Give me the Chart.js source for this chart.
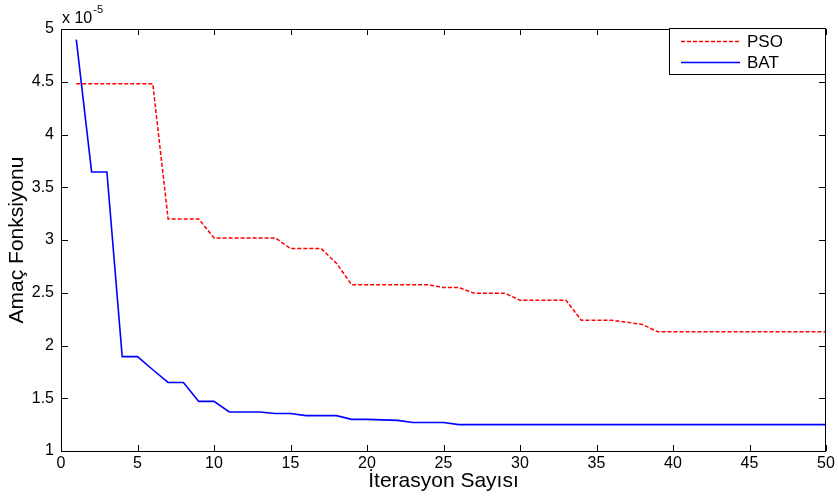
<!DOCTYPE html>
<html>
<head>
<meta charset="utf-8">
<script src="https://cdn.jsdelivr.net/npm/chart.js@4.4.1/dist/chart.umd.min.js"></script>
<style>
  html, body { margin: 0; padding: 0; background: #fff; }
  canvas { display: block; }
</style>
</head>
<body>
<canvas id="myChart" width="838" height="497"></canvas>
<script>
// iterations and objective values (in units of 1e-5)
var iterations = [1, 2, 3, 4, 5, 6, 7, 8, 9, 10, 11, 12, 13, 14, 15, 16, 17, 18, 19, 20,
  21, 22, 23, 24, 25, 26, 27, 28, 29, 30, 31, 32, 33, 34, 35, 36, 37, 38, 39, 40,
  41, 42, 43, 44, 45, 46, 47, 48, 49, 50];
var psoValues = [4.48, 4.48, 4.48, 4.48, 4.48, 4.48, 3.20, 3.20, 3.20, 3.02,
  3.02, 3.02, 3.02, 3.02, 2.92, 2.92, 2.92, 2.78, 2.575, 2.575,
  2.575, 2.575, 2.575, 2.575, 2.55, 2.55, 2.495, 2.495, 2.495, 2.43,
  2.43, 2.43, 2.43, 2.24, 2.24, 2.24, 2.22, 2.20, 2.13, 2.13,
  2.13, 2.13, 2.13, 2.13, 2.13, 2.13, 2.13, 2.13, 2.13, 2.13];
var batValues = [4.90, 3.645, 3.645, 1.895, 1.895, 1.77, 1.65, 1.65, 1.47, 1.47,
  1.37, 1.37, 1.37, 1.355, 1.355, 1.335, 1.335, 1.335, 1.30, 1.30,
  1.295, 1.29, 1.27, 1.27, 1.27, 1.25, 1.25, 1.25, 1.25, 1.25,
  1.25, 1.25, 1.25, 1.25, 1.25, 1.25, 1.25, 1.25, 1.25, 1.25,
  1.25, 1.25, 1.25, 1.25, 1.25, 1.25, 1.25, 1.25, 1.25, 1.25];
var seriesNames = ['PSO', 'BAT'];
var exponent = '-5';
var xTitle = 'İterasyon Sayısı';
var yTitle = 'Amaç Fonksiyonu';

var FONT = 'Liberation Sans, Arial, sans-serif';

function toPoints(values) {
  return values.map(function (v, i) { return { x: iterations[i], y: v }; });
}

// inward ticks on all sides, axes box, exponent text and boxed legend
var matlabAxes = {
  id: 'matlabAxes',
  afterDraw: function (chart) {
    var ctx = chart.ctx;
    var a = chart.chartArea;
    var xs = chart.scales.x, ys = chart.scales.y;
    ctx.save();
    ctx.strokeStyle = '#000';
    ctx.lineWidth = 1;
    ctx.beginPath();
    xs.ticks.forEach(function (t) {
      var px = Math.round(xs.getPixelForValue(t.value)) + 0.5;
      ctx.moveTo(px, a.bottom); ctx.lineTo(px, a.bottom - 6);
      ctx.moveTo(px, a.top); ctx.lineTo(px, a.top + 6);
    });
    ys.ticks.forEach(function (t) {
      var py = Math.round(ys.getPixelForValue(t.value)) + 0.5;
      ctx.moveTo(a.left, py); ctx.lineTo(a.left + 7, py);
      ctx.moveTo(a.right, py); ctx.lineTo(a.right - 7, py);
    });
    ctx.stroke();
    ctx.strokeRect(Math.round(a.left) + 0.5, Math.round(a.top) + 0.5,
      Math.round(a.right - a.left) - 1, Math.round(a.bottom - a.top));

    // exponent label
    ctx.fillStyle = '#000';
    ctx.textBaseline = 'alphabetic';
    ctx.textAlign = 'left';
    ctx.font = '16px ' + FONT;
    ctx.fillText('x 10', a.left + 1, a.top - 6);
    var w = ctx.measureText('x 10').width;
    ctx.font = '11px ' + FONT;
    ctx.fillText(exponent, a.left + 2 + w, a.top - 16);

    // legend box
    var bx = Math.round(a.right) - 157, by = Math.round(a.top) - 1, bw = 156, bh = 46;
    ctx.fillStyle = '#fff';
    ctx.fillRect(bx, by, bw, bh);
    ctx.strokeStyle = '#000';
    ctx.strokeRect(bx + 0.5, by + 0.5, bw, bh);
    chart.data.datasets.forEach(function (ds, i) {
      var ly = by + 13 + i * 21;
      ctx.beginPath();
      ctx.strokeStyle = ds.borderColor;
      ctx.lineWidth = ds.borderWidth;
      ctx.setLineDash(ds.borderDash || []);
      ctx.moveTo(bx + 12, ly + 0.5);
      ctx.lineTo(bx + 71, ly + 0.5);
      ctx.stroke();
      ctx.setLineDash([]);
      ctx.fillStyle = '#000';
      ctx.font = '17px ' + FONT;
      ctx.textBaseline = 'middle';
      ctx.fillText(ds.label, bx + 78, ly + 1);
    });
    ctx.restore();
  }
};

var ctx = document.getElementById('myChart');
var lineChart = new Chart(ctx, {
  type: 'line',
  data: {
    datasets: [{
      label: seriesNames[0],
      data: toPoints(psoValues),
      borderColor: '#ff0000',
      borderWidth: 1.5,
      borderDash: [4, 2],
      pointRadius: 0,
      tension: 0,
      fill: false
    }, {
      label: seriesNames[1],
      data: toPoints(batValues),
      borderColor: '#0000ff',
      borderWidth: 1.6,
      pointRadius: 0,
      tension: 0,
      fill: false
    }]
  },
  options: {
    responsive: false,
    animation: false,
    layout: { padding: { left: 0, top: 29, right: 12, bottom: 0 } },
    plugins: {
      legend: { display: false },
      tooltip: { enabled: false }
    },
    scales: {
      x: {
        type: 'linear',
        min: 0,
        max: 50,
        ticks: { stepSize: 5, color: '#000', padding: 3, maxRotation: 0,
          font: { family: FONT, size: 16 } },
        grid: { display: false, drawTicks: false },
        border: { display: false },
        title: { display: true, text: xTitle, color: '#000',
          font: { family: FONT, size: 21 }, padding: { top: 0, bottom: 3 } },
        afterFit: function (scale) { scale.height = 46; }
      },
      y: {
        min: 1,
        max: 5,
        ticks: { stepSize: 0.5, color: '#000', padding: 7,
          font: { family: FONT, size: 16 },
          callback: function (value) { return String(Math.round(value * 10) / 10); } },
        grid: { display: false, drawTicks: false },
        border: { display: false },
        title: { display: true, text: yTitle, color: '#000',
          font: { family: FONT, size: 21 }, padding: { top: 5, bottom: 0 } },
        afterFit: function (scale) { scale.width = 61; }
      }
    }
  },
  plugins: [matlabAxes]
});
</script>
</body>
</html>
